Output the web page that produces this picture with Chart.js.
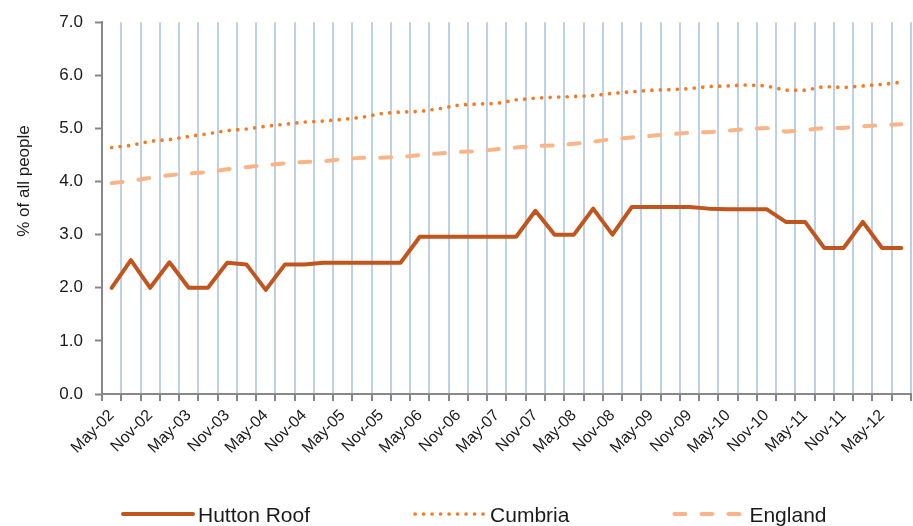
<!DOCTYPE html>
<html>
<head>
<meta charset="utf-8">
<title>Hutton Roof - % of all people</title>
<script src="https://cdn.jsdelivr.net/npm/chart.js@4.4.1/dist/chart.umd.min.js"></script>
<style>
  body { margin: 0; background: #fff; }
  #wrap { width: 913px; height: 526px; }
</style>
</head>
<body>
<div id="wrap"><canvas id="chart" width="913" height="526"></canvas></div>
<script>
// quarterly categories, only May / Nov get a label
const quarters = [
  'May-02', 'Aug-02', 'Nov-02', 'Feb-03', 'May-03', 'Aug-03', 'Nov-03', 'Feb-04',
  'May-04', 'Aug-04', 'Nov-04', 'Feb-05', 'May-05', 'Aug-05', 'Nov-05', 'Feb-06',
  'May-06', 'Aug-06', 'Nov-06', 'Feb-07', 'May-07', 'Aug-07', 'Nov-07', 'Feb-08',
  'May-08', 'Aug-08', 'Nov-08', 'Feb-09', 'May-09', 'Aug-09', 'Nov-09', 'Feb-10',
  'May-10', 'Aug-10', 'Nov-10', 'Feb-11', 'May-11', 'Aug-11', 'Nov-11', 'Feb-12',
  'May-12', 'Aug-12'
];

const huttonRoof = [
  2.00, 2.52, 2.00, 2.48, 2.00, 2.00, 2.47, 2.44, 1.96, 2.44,
  2.44, 2.47, 2.47, 2.47, 2.47, 2.47, 2.96, 2.96, 2.96, 2.96,
  2.96, 2.96, 3.45, 3.00, 3.00, 3.49, 3.00, 3.52, 3.52, 3.52,
  3.52, 3.49, 3.48, 3.48, 3.48, 3.24, 3.24, 2.75, 2.75, 3.24,
  2.75, 2.75
];

const cumbria = [
  4.64, 4.68, 4.76, 4.79, 4.85, 4.90, 4.96, 4.99, 5.04, 5.08,
  5.12, 5.14, 5.17, 5.21, 5.28, 5.31, 5.32, 5.37, 5.44, 5.46,
  5.47, 5.54, 5.57, 5.59, 5.60, 5.62, 5.66, 5.69, 5.72, 5.73,
  5.75, 5.79, 5.80, 5.82, 5.80, 5.72, 5.72, 5.79, 5.77, 5.80,
  5.83, 5.87
];

const england = [
  3.97, 4.01, 4.07, 4.12, 4.15, 4.18, 4.23, 4.27, 4.31, 4.34,
  4.37, 4.38, 4.42, 4.45, 4.45, 4.46, 4.50, 4.53, 4.56, 4.57,
  4.61, 4.64, 4.67, 4.68, 4.71, 4.75, 4.80, 4.83, 4.86, 4.89,
  4.92, 4.93, 4.96, 4.99, 5.01, 4.94, 4.97, 5.01, 5.01, 5.04,
  5.06, 5.08
];

const yMin = 0;
const yMax = 7;
const yStep = 1;
const yTitle = '% of all people';

const FONT = '"Liberation Sans", Arial, sans-serif';
const AXIS_GREY = '#878787';
const GRID_BLUE = '#bdd0e7';

Chart.defaults.font.family = FONT;
Chart.defaults.color = '#1a1a1a';

// y title and the legend are drawn by hand so they sit where the original has them
const extras = {
  id: 'extras',
  afterDraw(chart) {
    const ctx = chart.ctx;

    ctx.save();
    ctx.fillStyle = '#1a1a1a';
    ctx.font = '17px ' + FONT;
    ctx.translate(24, 181);
    ctx.rotate(-Math.PI / 2);
    ctx.textAlign = 'center';
    ctx.textBaseline = 'middle';
    ctx.fillText(yTitle, 0, 0);
    ctx.restore();

    ctx.save();
    ctx.font = '21px ' + FONT;
    let x = 123;
    const lineY = 514;
    chart.data.datasets.forEach(ds => {
      ctx.beginPath();
      ctx.strokeStyle = ds.borderColor;
      ctx.lineWidth = ds.borderWidth;
      ctx.lineCap = ds.borderCapStyle || 'butt';
      ctx.setLineDash(ds.borderDash || []);
      ctx.moveTo(x, lineY);
      ctx.lineTo(x + 70, lineY);
      ctx.stroke();
      ctx.setLineDash([]);
      ctx.fillStyle = '#1a1a1a';
      ctx.textAlign = 'left';
      ctx.textBaseline = 'alphabetic';
      ctx.fillText(ds.label, x + 75, 522);
      x += 75 + ctx.measureText(ds.label).width + 105;
    });
    ctx.restore();
  }
};

const ctx = document.getElementById('chart').getContext('2d');

new Chart(ctx, {
  type: 'line',
  data: {
    labels: quarters,
    datasets: [
      {
        label: 'Hutton Roof',
        data: huttonRoof,
        borderColor: '#c0561d',
        borderWidth: 4,
        borderCapStyle: 'round',
        borderJoinStyle: 'round',
        pointRadius: 0,
        tension: 0
      },
      {
        label: 'Cumbria',
        data: cumbria,
        borderColor: '#f47b21',
        borderWidth: 3.7,
        borderDash: [0, 8.5],
        borderCapStyle: 'round',
        pointRadius: 0,
        tension: 0
      },
      {
        label: 'England',
        data: england,
        borderColor: '#f9b587',
        borderWidth: 4,
        borderDash: [11, 16],
        borderCapStyle: 'round',
        pointRadius: 0,
        tension: 0
      }
    ]
  },
  options: {
    responsive: false,
    animation: false,
    layout: {
      padding: { top: 19, right: 2, left: 0, bottom: 0 }
    },
    plugins: {
      legend: { display: false },
      tooltip: { enabled: false }
    },
    scales: {
      x: {
        offset: true,
        grid: {
          offset: true,
          color: GRID_BLUE,
          lineWidth: 2,
          drawTicks: true,
          tickLength: 7,
          tickColor: AXIS_GREY,
          tickWidth: 2
        },
        border: { color: AXIS_GREY, width: 2 },
        ticks: {
          autoSkip: false,
          maxRotation: 45,
          minRotation: 45,
          padding: 5,
          color: '#1a1a1a',
          font: { size: 16 },
          callback: function (value) {
            const l = this.getLabelForValue(value);
            return (l.startsWith('May') || l.startsWith('Nov')) ? l : '';
          }
        },
        afterFit(scale) {
          scale.height = 132;
          // no extra room for the rotated labels at the ends
          scale.paddingLeft = 0;
          scale.paddingRight = 0;
        }
      },
      y: {
        min: yMin,
        max: yMax,
        grid: {
          drawOnChartArea: false,
          drawTicks: true,
          tickLength: 7,
          tickColor: AXIS_GREY,
          tickWidth: 2
        },
        border: { color: AXIS_GREY, width: 2 },
        ticks: {
          stepSize: yStep,
          padding: 12,
          color: '#1a1a1a',
          font: { size: 17 },
          callback: v => v.toFixed(1)
        },
        afterFit(scale) { scale.width = 102; }
      }
    }
  },
  plugins: [extras]
});
</script>
</body>
</html>
